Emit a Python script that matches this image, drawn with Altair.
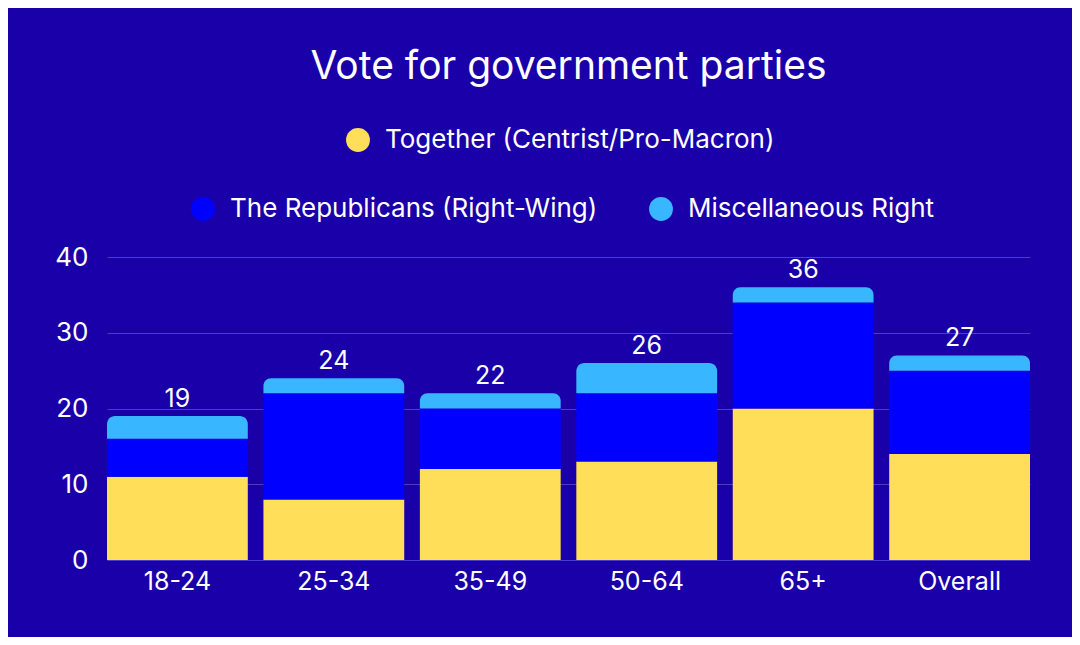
import altair as alt
import pandas as pd

# values
groups = ["18-24", "25-34", "35-49", "50-64", "65+", "Overall"]
together = [11, 8, 12, 13, 20, 14]
republicans = [5, 14, 8, 9, 14, 11]
misc_right = [3, 2, 2, 4, 2, 2]
totals = [19, 24, 22, 26, 36, 27]

T = "Together (Centrist/Pro-Macron)"
R = "The Republicans (Right-Wing)"
M = "Miscellaneous Right"

rows = []
for g, a, b, c in zip(groups, together, republicans, misc_right):
    start = 0
    for party, v in [(T, a), (R, b), (M, c)]:
        rows.append({"group": g, "party": party, "start": start, "end": start + v})
        start += v
df = pd.DataFrame(rows)
tot = pd.DataFrame({"group": groups, "total": totals})

FONT = "Inter"
BG = "#1a00a8"

x_enc = alt.X("group:N", sort=groups,
              scale=alt.Scale(paddingInner=0.1, paddingOuter=0),
              axis=alt.Axis(title=None, labelAngle=0, labelFontSize=25,
                            labelPadding=9, grid=False))
y_enc = alt.Y("end:Q", scale=alt.Scale(domain=[0, 40]),
              axis=alt.Axis(title=None, values=[0, 10, 20, 30, 40],
                            labelFontSize=26, labelPadding=19, grid=True))

leg_common = dict(title=None, orient="none", symbolType="circle", symbolSize=570,
                  symbolStrokeWidth=0, symbolOpacity=1, labelFontSize=26,
                  labelColor="white", labelFont=FONT, labelOffset=14, padding=0,
                  labelLimit=0)

base = alt.Chart(df).encode(x=x_enc, y=y_enc, y2="start:Q")

yellow = base.transform_filter(alt.datum.party == T).mark_bar().encode(
    color=alt.Color("party:N",
                    scale=alt.Scale(domain=[T], range=["#ffde59"]),
                    legend=alt.Legend(legendX=238, legendY=-130, **leg_common))
)

right_color = alt.Color("party:N",
                        scale=alt.Scale(domain=[R, M], range=["#0000ff", "#38b6ff"]),
                        legend=alt.Legend(legendX=83, legendY=-61, direction="horizontal",
                                          columnPadding=50, **leg_common))

rep = base.transform_filter(alt.datum.party == R).mark_bar().encode(color=right_color)
misc = base.transform_filter(alt.datum.party == M).mark_bar(
    cornerRadiusTopLeft=8, cornerRadiusTopRight=8
).encode(color=right_color)

labels = alt.Chart(tot).mark_text(
    font=FONT, fontSize=25, color="white", baseline="alphabetic", dy=-9
).encode(x=alt.X("group:N", sort=groups), y=alt.Y("total:Q"), text="total:Q")

chart = alt.layer(
    yellow, alt.layer(rep, misc), labels
).resolve_scale(color="independent").properties(
    width=923,
    height=303,
    autosize=alt.AutoSizeParams(type="none"),
    padding={"left": 99, "top": 249, "right": 42, "bottom": 77},
    background=BG,
    title=alt.TitleParams("Vote for government parties", font=FONT, fontSize=39,
                          fontWeight="normal", color="white", anchor="middle",
                          baseline="alphabetic", offset=9),
).configure_view(stroke=None).configure_axis(
    labelColor="white", labelFont=FONT, domain=False, ticks=False,
    gridColor="#4b3ec6", gridWidth=1
)

chart.save("out.html", embed_options={"renderer": "svg", "actions": False})
